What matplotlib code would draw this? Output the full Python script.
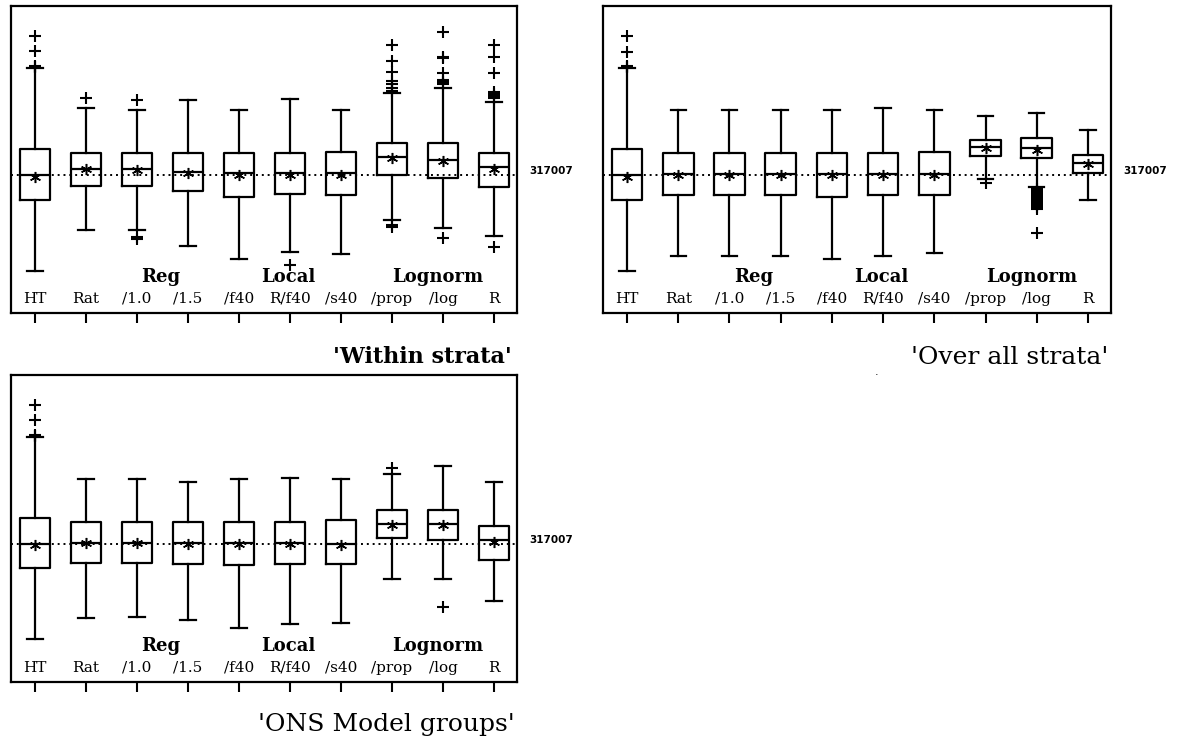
import matplotlib
matplotlib.use("Agg")
import matplotlib.pyplot as plt
import matplotlib.transforms as mtransforms

# ===== data (estimator values in thousands) =====
labels = ["HT", "Rat", "/1.0", "/1.5", "/f40", "R/f40", "/s40", "/prop", "/log", "R"]
groups = ["Reg", "Local", "Lognorm"]
group_pos = [3.47, 5.96, 8.9]
ref_value = 317.007
ref_label = "317007"

# --- 'Within strata' ---
w_lo = [221, 262, 262, 246, 233, 240, 238, 272, 264, 256]
w_q1 = [292, 306, 306, 301, 295, 298, 297, 317, 314, 305]
w_med = [317, 323, 323, 320, 319, 319, 319, 335, 332, 325]
w_q3 = [343, 339, 339, 339, 339, 339, 340, 349, 349, 339]
w_hi = [424, 384, 382, 392, 382, 393, 382, 399, 404, 390]
w_mean = [315, 323, 322, 319, 317, 317, 317, 334, 331, 323]
w_fliers = [[456, 441, 426, 425.5, 425], [394], [392, 255, 253], [], [], [227], [],
            [447, 431, 420, 411, 408, 404, 401, 267, 265],
            [460, 435, 434, 419, 412, 410, 408, 254],
            [447, 435, 419, 400, 398, 396, 394, 245]]

# --- 'Over all strata' ---
o_lo = [221, 236, 236, 236, 233, 236, 239, 313, 305, 292]
o_q1 = [292, 297, 297, 297, 295, 297, 297, 336, 334, 319]
o_med = [317, 318, 318, 318, 318, 318, 318, 345, 344, 329]
o_q3 = [343, 339, 339, 339, 339, 339, 340, 352, 354, 337]
o_hi = [424, 382, 382, 382, 382, 384, 382, 376, 379, 362]
o_mean = [315, 317, 317, 317, 317, 317, 317, 344, 342, 328]
o_fliers = [[456, 440, 426, 425.5, 425], [], [], [], [], [], [], [309],
            [303, 301, 299, 297, 295, 293, 291, 289, 287, 285, 283, 259], []]

# --- 'ONS Model groups' ---
n_lo = [222, 243, 244, 241, 233, 237, 238, 282, 282, 260]
n_q1 = [293, 298, 298, 297, 296, 297, 297, 323, 321, 301]
n_med = [317, 318, 318, 318, 318, 318, 317, 337, 337, 321]
n_q3 = [343, 339, 339, 339, 339, 339, 341, 351, 351, 335]
n_hi = [424, 382, 382, 379, 382, 383, 382, 387, 395, 379]
n_mean = [316, 318, 318, 317, 317, 317, 316, 336, 336, 319]
n_fliers = [[456, 441, 426, 425.5, 425], [], [], [], [], [], [], [393], [254], []]

W, H = 1181, 741
fig = plt.figure(figsize=(W / 100, H / 100), dpi=100)
fig.patch.set_facecolor("white")

serif = "DejaVu Serif"


def panel(rect_px, lo, q1, med, q3, hi, mean, fliers):
    left, top, right, bottom = rect_px
    ax = fig.add_axes([left / W, 1 - bottom / H, (right - left) / W, (bottom - top) / H])
    stats = []
    for i in range(len(labels)):
        stats.append(dict(whislo=lo[i], q1=q1[i], med=med[i], q3=q3[i], whishi=hi[i],
                          mean=mean[i], fliers=fliers[i]))
    pos = list(range(1, len(labels) + 1))
    line = dict(color="black", linewidth=1.6)
    ax.bxp(stats, positions=pos, widths=0.6, capwidths=0.3, showmeans=True,
           boxprops=line, whiskerprops=line, capprops=line, medianprops=line,
           meanprops=dict(marker=(6, 2, 0), markersize=8, markeredgecolor="black",
                          markeredgewidth=1.1),
           flierprops=dict(marker="+", markersize=9, markeredgecolor="black",
                           markeredgewidth=1.5))
    ax.axhline(ref_value, color="black", linestyle=(0, (1, 2)), linewidth=1.4, zorder=1)
    ax.set_xlim(0.53, 10.45)
    ax.set_ylim(179, 486)
    ax.set_yticks([])
    ax.set_xticks(pos)
    ax.set_xticklabels([""] * len(pos))
    ax.tick_params(axis="x", direction="out", length=7, width=1.5)
    for s in ax.spines.values():
        s.set_linewidth(1.6)
    tr = mtransforms.blended_transform_factory(ax.transData, ax.transAxes)
    for p, lab in zip(pos, labels):
        ax.text(p, 0.046, lab, transform=tr, ha="center", va="center",
                fontsize=11, family=serif)
    for p, g in zip(group_pos, groups):
        ax.text(p, 0.117, g, transform=tr, ha="center", va="center",
                fontsize=13, family=serif, fontweight="bold")
    tr2 = mtransforms.blended_transform_factory(ax.transAxes, ax.transData)
    ax.text(1 + 12 / (right - left), ref_value + 4, ref_label, transform=tr2,
            ha="left", va="center", fontsize=7.5, fontweight="bold")
    return ax


panel((11, 6, 517, 313), w_lo, w_q1, w_med, w_q3, w_hi, w_mean, w_fliers)
panel((603, 6, 1111, 313), o_lo, o_q1, o_med, o_q3, o_hi, o_mean, o_fliers)
panel((11, 375, 517, 682), n_lo, n_q1, n_med, n_q3, n_hi, n_mean, n_fliers)

fig.text(512 / W, 1 - 357 / H, "'Within strata'", ha="right", va="center",
         fontsize=16, family=serif, fontweight="bold")
fig.text(1108 / W, 1 - 357 / H, "'Over all strata'", ha="right", va="center",
         fontsize=18, family=serif)
fig.text(515 / W, 1 - 725 / H, "'ONS Model groups'", ha="right", va="center",
         fontsize=18, family=serif)
fig.text(877 / W, 1 - 372 / H, ".", ha="center", va="center", fontsize=8)

fig.savefig("out.png", dpi=100)
